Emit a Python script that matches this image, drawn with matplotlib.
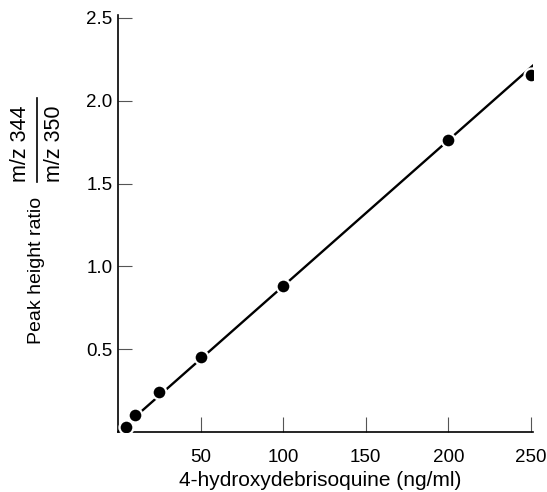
import matplotlib
matplotlib.use("Agg")
import matplotlib.pyplot as plt
import numpy as np

conc = [5, 10, 25, 50, 100, 200, 250]
ratio = [0.03, 0.105, 0.24, 0.455, 0.88, 1.765, 2.155]
line_x = [0, 252]
line_y = [0.0, 2.22]
xticks = [50, 100, 150, 200, 250]
yticks = [0.5, 1.0, 1.5, 2.0, 2.5]

plt.rcParams['font.family'] = ['Liberation Sans', 'DejaVu Sans']
W, H = 547, 492
fig = plt.figure(figsize=(W/100, H/100), dpi=100)
ax = fig.add_axes([118/W, 1-432/H, (533-118)/W, (432-15)/H])
ax.set_xlim(0, 250*(533-118)/(531-118))
ax.set_ylim(0, 2.5*(432-15)/(432-18))

ax.plot(line_x, line_y, color='black', lw=1.7, zorder=2)
ax.plot(conc, ratio, 'o', color='black', ms=10, mec='white', mew=1.6, zorder=3)

for s in ['top', 'right']:
    ax.spines[s].set_visible(False)
ax.spines['left'].set_linewidth(1.2)
ax.spines['bottom'].set_linewidth(1.2)
ax.set_xticks(xticks)
ax.set_xticklabels([str(v) for v in xticks])
ax.set_yticks(yticks)
ax.set_yticklabels([f"{v:.1f}" for v in yticks])
ax.tick_params(axis='x', direction='in', length=11, width=0.8, color='#555555',
               labelsize=13.5, pad=12)
ax.tick_params(axis='y', direction='in', length=10, width=0.8, color='#555555',
               labelsize=13.5, pad=4)

fig.text(320/W, 1-481/H, "4-hydroxydebrisoquine (ng/ml)", ha='center', va='center', fontsize=15)
fig.text(37/W, 1-270/H, "Peak height ratio", rotation=90, ha='center', va='center', fontsize=14)
fig.text(20/W, 1-144/H, "m/z 344", rotation=90, ha='center', va='center', fontsize=15.5)
fig.text(54/W, 1-144/H, "m/z 350", rotation=90, ha='center', va='center', fontsize=15.5)
fig.add_artist(plt.Line2D([37/W, 37/W], [1-182/H, 1-98/H], color='black', lw=1.2,
                          transform=fig.transFigure))

fig.savefig("out.png", dpi=100)
